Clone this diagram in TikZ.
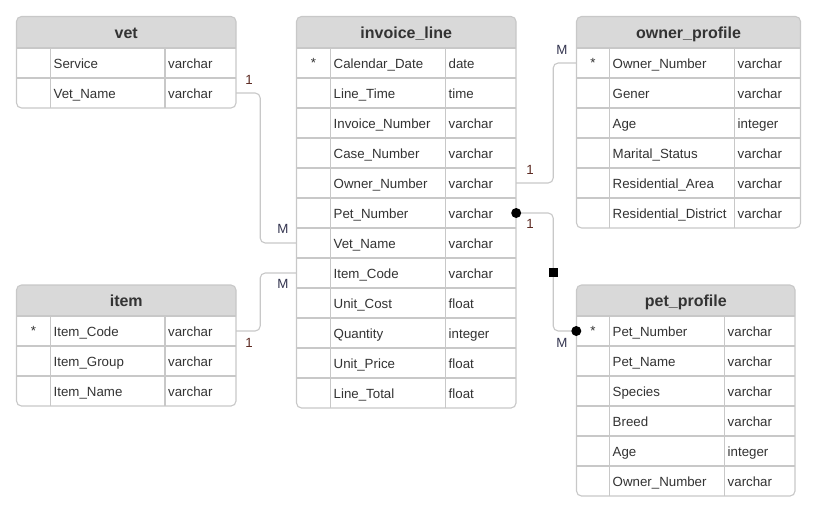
\documentclass[tikz,border=0pt]{standalone}
\usepackage{fontspec}
\setmainfont{Liberation Sans}
\usetikzlibrary{positioning}
\definecolor{gridgray}{HTML}{C8C8C8}
\definecolor{hdrgray}{HTML}{D9D9D9}
\definecolor{txtgray}{HTML}{333333}
\definecolor{onecol}{HTML}{5C2A22}
\definecolor{manycol}{HTML}{33344F}
\tikzset{
  rowbox/.style={rectangle, inner sep=0pt, minimum height=30pt},
  fieldtxt/.style={anchor=west, inner sep=0pt, yshift=-1.5pt, text height=9.5pt, text depth=2.5pt, text=txtgray, font=\fontsize{13.3}{15}\selectfont},
  keytxt/.style={inner sep=0pt, yshift=-1pt, text=txtgray, font=\fontsize{13.3}{15}\selectfont},
  hdrtxt/.style={inner sep=0pt, yshift=-1.5pt, text height=11.5pt, text depth=3pt, text=txtgray, font=\fontsize{16}{18}\selectfont\bfseries},
  gridline/.style={draw=gridgray, line width=1.1pt},
  conn/.style={draw=gridgray, line width=1.1pt, rounded corners=5pt},
  card/.style={inner sep=0pt, font=\fontsize{13.3}{15}\selectfont},
  sqmark/.style={fill=black, rectangle, sharp corners, inner sep=0pt, minimum size=9pt},
}
\begin{document}
\begin{tikzpicture}[x=1pt, y=-1pt]
  \fill[white] (0,0) rectangle (818,515);
  \useasboundingbox (0,0) rectangle (818,515);

  % vet
  \fill[hdrgray] (16.5,48) [rounded corners=5pt]-- (16.5,16.5) -- (236,16.5) [sharp corners]-- (236,48) -- cycle;
  \node[hdrtxt] (vet) at (126.25,33) {vet};
  \foreach \f/\t [count=\i] in {Service/varchar, Vet\_Name/varchar} {
    \node[rowbox, minimum width=219.5pt] (vet-\i) at (126.25,33+30*\i) {};
    \node[fieldtxt] (vet-f\i) at (53.5,33+30*\i) {\f};
    \node[fieldtxt] (vet-t\i) at (168,33+30*\i) {\t};
  }
  \draw[gridline] (16.5,48) -- (236,48);
  \draw[gridline] (16.5,78) -- (236,78);
  \draw[gridline] (50.5,48) -- (50.5,108);
  \draw[gridline] (165,48) -- (165,108);
  \draw[gridline, rounded corners=5pt] (16.5,16.5) rectangle (236,108);

  % item
  \fill[hdrgray] (16.5,316) [rounded corners=5pt]-- (16.5,285) -- (236,285) [sharp corners]-- (236,316) -- cycle;
  \node[hdrtxt] (item) at (126.25,301) {item};
  \foreach \f/\t [count=\i] in {Item\_Code/varchar, Item\_Group/varchar, Item\_Name/varchar} {
    \node[rowbox, minimum width=219.5pt] (item-\i) at (126.25,301+30*\i) {};
    \node[fieldtxt] (item-f\i) at (53.5,301+30*\i) {\f};
    \node[fieldtxt] (item-t\i) at (168,301+30*\i) {\t};
  }
  \node[keytxt] (item-key) at (33.5,330) {*};
  \foreach \y in {1,2,3}
    \draw[gridline] (16.5,286+30*\y) -- (236,286+30*\y);
  \draw[gridline] (50.5,316) -- (50.5,406);
  \draw[gridline] (165,316) -- (165,406);
  \draw[gridline, rounded corners=5pt] (16.5,285) rectangle (236,406);

  % invoice_line
  \fill[hdrgray] (296.5,48) [rounded corners=5pt]-- (296.5,16.5) -- (516,16.5) [sharp corners]-- (516,48) -- cycle;
  \node[hdrtxt] (inv) at (406.25,33) {invoice\_line};
  \foreach \f/\t [count=\i] in {Calendar\_Date/date, Line\_Time/time, Invoice\_Number/varchar,
      Case\_Number/varchar, Owner\_Number/varchar, Pet\_Number/varchar, Vet\_Name/varchar,
      Item\_Code/varchar, Unit\_Cost/float, Quantity/integer, Unit\_Price/float, Line\_Total/float} {
    \node[rowbox, minimum width=219.5pt] (inv-\i) at (406.25,33+30*\i) {};
    \node[fieldtxt] (inv-f\i) at (333.5,33+30*\i) {\f};
    \node[fieldtxt] (inv-t\i) at (448.5,33+30*\i) {\t};
  }
  \node[keytxt] (inv-key) at (313.5,62) {*};
  \foreach \y in {1,...,11}
    \draw[gridline] (296.5,48+30*\y) -- (516,48+30*\y);
  \draw[gridline] (296.5,48) -- (516,48);
  \draw[gridline] (330.5,48) -- (330.5,408);
  \draw[gridline] (445.5,48) -- (445.5,408);
  \draw[gridline, rounded corners=5pt] (296.5,16.5) rectangle (516,408);

  % owner_profile
  \fill[hdrgray] (576.5,48) [rounded corners=5pt]-- (576.5,16.5) -- (800.5,16.5) [sharp corners]-- (800.5,48) -- cycle;
  \node[hdrtxt] (own) at (688.5,33) {owner\_profile};
  \foreach \f/\t [count=\i] in {Owner\_Number/varchar, Gener/varchar, Age/integer,
      Marital\_Status/varchar, Residential\_Area/varchar, Residential\_District/varchar} {
    \node[rowbox, minimum width=224pt] (own-\i) at (688.5,33+30*\i) {};
    \node[fieldtxt] (own-f\i) at (612.5,33+30*\i) {\f};
    \node[fieldtxt] (own-t\i) at (737.5,33+30*\i) {\t};
  }
  \node[keytxt] (own-key) at (593,62) {*};
  \foreach \y in {0,...,5}
    \draw[gridline] (576.5,48+30*\y) -- (800.5,48+30*\y);
  \draw[gridline] (609.5,48) -- (609.5,228);
  \draw[gridline] (734.5,48) -- (734.5,228);
  \draw[gridline, rounded corners=5pt] (576.5,16.5) rectangle (800.5,228);

  % pet_profile
  \fill[hdrgray] (576.5,316) [rounded corners=5pt]-- (576.5,285) -- (795,285) [sharp corners]-- (795,316) -- cycle;
  \node[hdrtxt] (pet) at (685.75,301) {pet\_profile};
  \foreach \f/\t [count=\i] in {Pet\_Number/varchar, Pet\_Name/varchar, Species/varchar,
      Breed/varchar, Age/integer, Owner\_Number/varchar} {
    \node[rowbox, minimum width=218.5pt] (pet-\i) at (685.75,301+30*\i) {};
    \node[fieldtxt] (pet-f\i) at (612.5,301+30*\i) {\f};
    \node[fieldtxt] (pet-t\i) at (727.5,301+30*\i) {\t};
  }
  \node[keytxt] (pet-key) at (593,330) {*};
  \foreach \y in {0,...,5}
    \draw[gridline] (576.5,316+30*\y) -- (795,316+30*\y);
  \draw[gridline] (609.5,316) -- (609.5,496);
  \draw[gridline] (724.5,316) -- (724.5,496);
  \draw[gridline, rounded corners=5pt] (576.5,285) rectangle (795,496);

  % relations
  \draw[conn] (vet-2.east) -- ++(24,0) |- (inv-7.west);
  \node[card, text=onecol] (vet-one) at (249,80) {1};
  \node[card, text=manycol] (vet-many) at (283,229) {M};

  \draw[conn] (item-1.east) -- ++(24,0) |- (inv-8.west);
  \node[card, text=onecol] (item-one) at (249,343) {1};
  \node[card, text=manycol] (item-many) at (283,284) {M};

  \draw[conn] (inv-5.east) -- ++(37,0) |- (own-1.west);
  \node[card, text=onecol] (own-one) at (530,170) {1};
  \node[card, text=manycol] (own-many) at (562,50) {M};

  \draw[conn] (inv-6.east) -- ++(37,0) |- node[pos=0.25, sqmark] (pet-sq) {} (pet-1.west);
  \fill (inv-6.east) circle (5pt);
  \fill (pet-1.west) circle (5pt);
  \node[card, text=onecol] (pet-one) at (530,224) {1};
  \node[card, text=manycol] (pet-many) at (562,343) {M};
\end{tikzpicture}
\end{document}
